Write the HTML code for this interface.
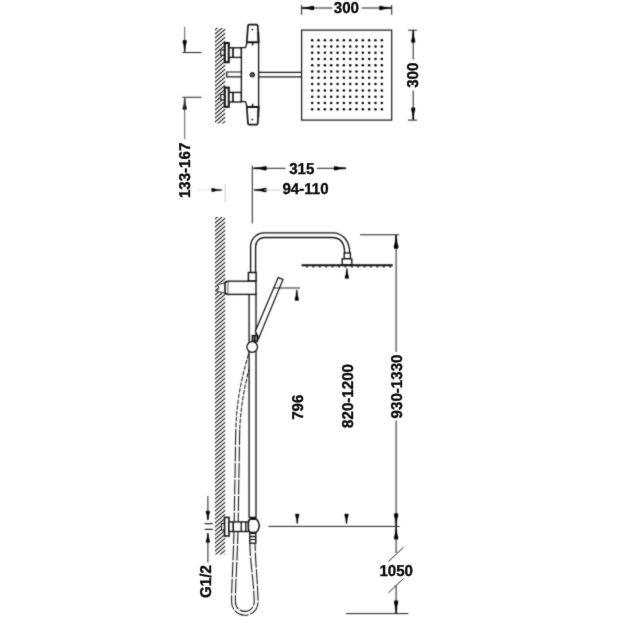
<!DOCTYPE html>
<html><head><meta charset="utf-8"><title>Shower column dimensions</title>
<style>
html,body{margin:0;padding:0;background:#fff;}
body{width:625px;height:625px;overflow:hidden;}
svg{display:block;}
svg text{font-family:"Liberation Sans",sans-serif;font-weight:bold;text-rendering:geometricPrecision;fill:#0a0a0a;stroke:#0a0a0a;stroke-width:0.35px;}
</style></head><body>
<svg width="625" height="625" viewBox="0 0 625 625">
<rect width="625" height="625" fill="#fff"/>
<defs><filter id="tb" x="0" y="0" width="625" height="625" filterUnits="userSpaceOnUse" color-interpolation-filters="sRGB"><feConvolveMatrix order="3" kernelMatrix="0 1 0 1 10 1 0 1 0" edgeMode="duplicate" preserveAlpha="false"/></filter><filter id="bl" x="0" y="0" width="625" height="625" filterUnits="userSpaceOnUse" color-interpolation-filters="sRGB"><feConvolveMatrix order="3" kernelMatrix="1 2 1 2 14 2 1 2 1" edgeMode="duplicate" preserveAlpha="false"/></filter></defs><g filter="url(#bl)">
<clipPath id="h1"><rect x="215" y="28" width="10.199999999999989" height="95.6"/></clipPath>
<g clip-path="url(#h1)" stroke="#111" stroke-width="1.05">
<line x1="214" y1="26.85" x2="226.2" y2="16.48"/>
<line x1="214" y1="30.85" x2="226.2" y2="20.48"/>
<line x1="214" y1="34.85" x2="226.2" y2="24.48"/>
<line x1="214" y1="38.85" x2="226.2" y2="28.48"/>
<line x1="214" y1="42.85" x2="226.2" y2="32.48"/>
<line x1="214" y1="46.85" x2="226.2" y2="36.48"/>
<line x1="214" y1="50.85" x2="226.2" y2="40.48"/>
<line x1="214" y1="54.85" x2="226.2" y2="44.48"/>
<line x1="214" y1="58.85" x2="226.2" y2="48.48"/>
<line x1="214" y1="62.85" x2="226.2" y2="52.48"/>
<line x1="214" y1="66.85" x2="226.2" y2="56.48"/>
<line x1="214" y1="70.85" x2="226.2" y2="60.48"/>
<line x1="214" y1="74.85" x2="226.2" y2="64.48"/>
<line x1="214" y1="78.85" x2="226.2" y2="68.48"/>
<line x1="214" y1="82.85" x2="226.2" y2="72.48"/>
<line x1="214" y1="86.85" x2="226.2" y2="76.48"/>
<line x1="214" y1="90.85" x2="226.2" y2="80.48"/>
<line x1="214" y1="94.85" x2="226.2" y2="84.48"/>
<line x1="214" y1="98.85" x2="226.2" y2="88.48"/>
<line x1="214" y1="102.85" x2="226.2" y2="92.48"/>
<line x1="214" y1="106.85" x2="226.2" y2="96.48"/>
<line x1="214" y1="110.85" x2="226.2" y2="100.48"/>
<line x1="214" y1="114.85" x2="226.2" y2="104.48"/>
<line x1="214" y1="118.85" x2="226.2" y2="108.48"/>
<line x1="214" y1="122.85" x2="226.2" y2="112.48"/>
<line x1="214" y1="126.85" x2="226.2" y2="116.48"/>
<line x1="214" y1="130.85" x2="226.2" y2="120.48"/>
<line x1="214" y1="134.85" x2="226.2" y2="124.48"/>
</g>
<line x1="184.7" y1="26.8" x2="184.7" y2="52.5" stroke="#444" stroke-width="0.9" />
<polygon points="185.15,51.30 185.65,45.25 186.60,41.95 186.41,40.30 182.99,40.30 182.80,41.95 183.75,45.25 184.25,51.30" fill="#000" stroke="#000" stroke-width="0.3" stroke-linejoin="round"/>
<line x1="182.5" y1="52.5" x2="201.5" y2="52.5" stroke="#101010" stroke-width="0.95" />
<line x1="182.5" y1="97.3" x2="201.5" y2="97.3" stroke="#101010" stroke-width="0.95" />
<polygon points="185.15,98.60 185.65,104.65 186.60,107.95 186.41,109.60 182.99,109.60 182.80,107.95 183.75,104.65 184.25,98.60" fill="#000" stroke="#000" stroke-width="0.3" stroke-linejoin="round"/>
<line x1="184.7" y1="97.3" x2="184.7" y2="139" stroke="#444" stroke-width="0.9" />
<rect x="220.8" y="49.9" width="3.6" height="5.4" fill="#fff" stroke="#101010" stroke-width="1.12"/>
<rect x="224.8" y="43.0" width="4.0" height="19.2" fill="#fff" stroke="#101010" stroke-width="2.02"/>
<rect x="229" y="47.800000000000004" width="12.4" height="9.6" fill="#fff" stroke="#101010" stroke-width="1.34"/>
<line x1="233" y1="47.7" x2="233" y2="57.5" stroke="#101010" stroke-width="1.68" />
<rect x="220.8" y="94.5" width="3.6" height="5.4" fill="#fff" stroke="#101010" stroke-width="1.12"/>
<rect x="224.8" y="87.60000000000001" width="4.0" height="19.2" fill="#fff" stroke="#101010" stroke-width="2.02"/>
<rect x="229" y="92.4" width="12.4" height="9.6" fill="#fff" stroke="#101010" stroke-width="1.34"/>
<line x1="233" y1="92.3" x2="233" y2="102.10000000000001" stroke="#101010" stroke-width="1.68" />
<path d="M241.4 72 H226.8 V76.9 H241.4" fill="#fff" stroke="#101010" stroke-width="1.23" />
<path d="M241.4 47.599999999999994 H245.5 L247 42.5 H258.6 V106.69999999999999 H247 L245.5 101.6 H241.4 Z" fill="#fff" stroke="#101010" stroke-width="1.34" />
<path d="M246.8 42 L248 25.6 Q248.1 24.6 249.2 24.6 H256.6 Q257.6 24.6 257.7 25.6 L258.8 42 Z" fill="#fff" stroke="#101010" stroke-width="1.68" />
<path d="M246.8 107.19999999999999 L248 123.6 Q248.1 124.6 249.2 124.6 H256.6 Q257.6 124.6 257.7 123.6 L258.8 107.19999999999999 Z" fill="#fff" stroke="#101010" stroke-width="1.68" />
<line x1="252.6" y1="42" x2="252.6" y2="45.5" stroke="#101010" stroke-width="1.46" />
<line x1="252.6" y1="107.19999999999999" x2="252.6" y2="103.69999999999999" stroke="#101010" stroke-width="1.46" />
<circle cx="252.3" cy="29.6" r="0.9" fill="#101010"/>
<circle cx="252.3" cy="119.6" r="0.9" fill="#101010"/>
<line x1="258.3" y1="32" x2="258.3" y2="41" stroke="#101010" stroke-width="1.79" />
<line x1="258.3" y1="117.19999999999999" x2="258.3" y2="108.19999999999999" stroke="#101010" stroke-width="1.79" />
<circle cx="252.3" cy="74.8" r="2.3" fill="#555" stroke="#101010" stroke-width="1"/>
<line x1="258.6" y1="72.4" x2="301.6" y2="72.4" stroke="#101010" stroke-width="1.34" />
<line x1="258.6" y1="76.9" x2="301.6" y2="76.9" stroke="#101010" stroke-width="1.34" />
<rect x="301.6" y="30.1" width="90.1" height="90.0" fill="#fff" stroke="#101010" stroke-width="1.18"/>
<circle cx="312.20" cy="40.30" r="1.25" fill="#000"/>
<circle cx="312.20" cy="46.56" r="1.25" fill="#000"/>
<circle cx="312.20" cy="52.82" r="1.25" fill="#000"/>
<circle cx="312.20" cy="59.08" r="1.25" fill="#000"/>
<circle cx="312.20" cy="65.34" r="1.25" fill="#000"/>
<circle cx="312.20" cy="71.60" r="1.25" fill="#000"/>
<circle cx="312.20" cy="77.86" r="1.25" fill="#000"/>
<circle cx="312.20" cy="84.12" r="1.25" fill="#000"/>
<circle cx="312.20" cy="90.38" r="1.25" fill="#000"/>
<circle cx="312.20" cy="96.64" r="1.25" fill="#000"/>
<circle cx="312.20" cy="102.90" r="1.25" fill="#000"/>
<circle cx="312.20" cy="109.16" r="1.25" fill="#000"/>
<circle cx="318.53" cy="40.30" r="1.25" fill="#000"/>
<circle cx="318.53" cy="46.56" r="1.25" fill="#000"/>
<circle cx="318.53" cy="52.82" r="1.25" fill="#000"/>
<circle cx="318.53" cy="59.08" r="1.25" fill="#000"/>
<circle cx="318.53" cy="65.34" r="1.25" fill="#000"/>
<circle cx="318.53" cy="71.60" r="1.25" fill="#000"/>
<circle cx="318.53" cy="77.86" r="1.25" fill="#000"/>
<circle cx="318.53" cy="84.12" r="1.25" fill="#000"/>
<circle cx="318.53" cy="90.38" r="1.25" fill="#000"/>
<circle cx="318.53" cy="96.64" r="1.25" fill="#000"/>
<circle cx="318.53" cy="102.90" r="1.25" fill="#000"/>
<circle cx="318.53" cy="109.16" r="1.25" fill="#000"/>
<circle cx="324.86" cy="40.30" r="1.25" fill="#000"/>
<circle cx="324.86" cy="46.56" r="1.25" fill="#000"/>
<circle cx="324.86" cy="52.82" r="1.25" fill="#000"/>
<circle cx="324.86" cy="59.08" r="1.25" fill="#000"/>
<circle cx="324.86" cy="65.34" r="1.25" fill="#000"/>
<circle cx="324.86" cy="71.60" r="1.25" fill="#000"/>
<circle cx="324.86" cy="77.86" r="1.25" fill="#000"/>
<circle cx="324.86" cy="84.12" r="1.25" fill="#000"/>
<circle cx="324.86" cy="90.38" r="1.25" fill="#000"/>
<circle cx="324.86" cy="96.64" r="1.25" fill="#000"/>
<circle cx="324.86" cy="102.90" r="1.25" fill="#000"/>
<circle cx="324.86" cy="109.16" r="1.25" fill="#000"/>
<circle cx="331.19" cy="40.30" r="1.25" fill="#000"/>
<circle cx="331.19" cy="46.56" r="1.25" fill="#000"/>
<circle cx="331.19" cy="52.82" r="1.25" fill="#000"/>
<circle cx="331.19" cy="59.08" r="1.25" fill="#000"/>
<circle cx="331.19" cy="65.34" r="1.25" fill="#000"/>
<circle cx="331.19" cy="71.60" r="1.25" fill="#000"/>
<circle cx="331.19" cy="77.86" r="1.25" fill="#000"/>
<circle cx="331.19" cy="84.12" r="1.25" fill="#000"/>
<circle cx="331.19" cy="90.38" r="1.25" fill="#000"/>
<circle cx="331.19" cy="96.64" r="1.25" fill="#000"/>
<circle cx="331.19" cy="102.90" r="1.25" fill="#000"/>
<circle cx="331.19" cy="109.16" r="1.25" fill="#000"/>
<circle cx="337.52" cy="40.30" r="1.25" fill="#000"/>
<circle cx="337.52" cy="46.56" r="1.25" fill="#000"/>
<circle cx="337.52" cy="52.82" r="1.25" fill="#000"/>
<circle cx="337.52" cy="59.08" r="1.25" fill="#000"/>
<circle cx="337.52" cy="65.34" r="1.25" fill="#000"/>
<circle cx="337.52" cy="71.60" r="1.25" fill="#000"/>
<circle cx="337.52" cy="77.86" r="1.25" fill="#000"/>
<circle cx="337.52" cy="84.12" r="1.25" fill="#000"/>
<circle cx="337.52" cy="90.38" r="1.25" fill="#000"/>
<circle cx="337.52" cy="96.64" r="1.25" fill="#000"/>
<circle cx="337.52" cy="102.90" r="1.25" fill="#000"/>
<circle cx="337.52" cy="109.16" r="1.25" fill="#000"/>
<circle cx="343.85" cy="40.30" r="1.25" fill="#000"/>
<circle cx="343.85" cy="46.56" r="1.25" fill="#000"/>
<circle cx="343.85" cy="52.82" r="1.25" fill="#000"/>
<circle cx="343.85" cy="59.08" r="1.25" fill="#000"/>
<circle cx="343.85" cy="65.34" r="1.25" fill="#000"/>
<circle cx="343.85" cy="71.60" r="1.25" fill="#000"/>
<circle cx="343.85" cy="77.86" r="1.25" fill="#000"/>
<circle cx="343.85" cy="84.12" r="1.25" fill="#000"/>
<circle cx="343.85" cy="90.38" r="1.25" fill="#000"/>
<circle cx="343.85" cy="96.64" r="1.25" fill="#000"/>
<circle cx="343.85" cy="102.90" r="1.25" fill="#000"/>
<circle cx="343.85" cy="109.16" r="1.25" fill="#000"/>
<circle cx="350.18" cy="40.30" r="1.25" fill="#000"/>
<circle cx="350.18" cy="46.56" r="1.25" fill="#000"/>
<circle cx="350.18" cy="52.82" r="1.25" fill="#000"/>
<circle cx="350.18" cy="59.08" r="1.25" fill="#000"/>
<circle cx="350.18" cy="65.34" r="1.25" fill="#000"/>
<circle cx="350.18" cy="71.60" r="1.25" fill="#000"/>
<circle cx="350.18" cy="77.86" r="1.25" fill="#000"/>
<circle cx="350.18" cy="84.12" r="1.25" fill="#000"/>
<circle cx="350.18" cy="90.38" r="1.25" fill="#000"/>
<circle cx="350.18" cy="96.64" r="1.25" fill="#000"/>
<circle cx="350.18" cy="102.90" r="1.25" fill="#000"/>
<circle cx="350.18" cy="109.16" r="1.25" fill="#000"/>
<circle cx="356.51" cy="40.30" r="1.25" fill="#000"/>
<circle cx="356.51" cy="46.56" r="1.25" fill="#000"/>
<circle cx="356.51" cy="52.82" r="1.25" fill="#000"/>
<circle cx="356.51" cy="59.08" r="1.25" fill="#000"/>
<circle cx="356.51" cy="65.34" r="1.25" fill="#000"/>
<circle cx="356.51" cy="71.60" r="1.25" fill="#000"/>
<circle cx="356.51" cy="77.86" r="1.25" fill="#000"/>
<circle cx="356.51" cy="84.12" r="1.25" fill="#000"/>
<circle cx="356.51" cy="90.38" r="1.25" fill="#000"/>
<circle cx="356.51" cy="96.64" r="1.25" fill="#000"/>
<circle cx="356.51" cy="102.90" r="1.25" fill="#000"/>
<circle cx="356.51" cy="109.16" r="1.25" fill="#000"/>
<circle cx="362.84" cy="40.30" r="1.25" fill="#000"/>
<circle cx="362.84" cy="46.56" r="1.25" fill="#000"/>
<circle cx="362.84" cy="52.82" r="1.25" fill="#000"/>
<circle cx="362.84" cy="59.08" r="1.25" fill="#000"/>
<circle cx="362.84" cy="65.34" r="1.25" fill="#000"/>
<circle cx="362.84" cy="71.60" r="1.25" fill="#000"/>
<circle cx="362.84" cy="77.86" r="1.25" fill="#000"/>
<circle cx="362.84" cy="84.12" r="1.25" fill="#000"/>
<circle cx="362.84" cy="90.38" r="1.25" fill="#000"/>
<circle cx="362.84" cy="96.64" r="1.25" fill="#000"/>
<circle cx="362.84" cy="102.90" r="1.25" fill="#000"/>
<circle cx="362.84" cy="109.16" r="1.25" fill="#000"/>
<circle cx="369.17" cy="40.30" r="1.25" fill="#000"/>
<circle cx="369.17" cy="46.56" r="1.25" fill="#000"/>
<circle cx="369.17" cy="52.82" r="1.25" fill="#000"/>
<circle cx="369.17" cy="59.08" r="1.25" fill="#000"/>
<circle cx="369.17" cy="65.34" r="1.25" fill="#000"/>
<circle cx="369.17" cy="71.60" r="1.25" fill="#000"/>
<circle cx="369.17" cy="77.86" r="1.25" fill="#000"/>
<circle cx="369.17" cy="84.12" r="1.25" fill="#000"/>
<circle cx="369.17" cy="90.38" r="1.25" fill="#000"/>
<circle cx="369.17" cy="96.64" r="1.25" fill="#000"/>
<circle cx="369.17" cy="102.90" r="1.25" fill="#000"/>
<circle cx="369.17" cy="109.16" r="1.25" fill="#000"/>
<circle cx="375.50" cy="40.30" r="1.25" fill="#000"/>
<circle cx="375.50" cy="46.56" r="1.25" fill="#000"/>
<circle cx="375.50" cy="52.82" r="1.25" fill="#000"/>
<circle cx="375.50" cy="59.08" r="1.25" fill="#000"/>
<circle cx="375.50" cy="65.34" r="1.25" fill="#000"/>
<circle cx="375.50" cy="71.60" r="1.25" fill="#000"/>
<circle cx="375.50" cy="77.86" r="1.25" fill="#000"/>
<circle cx="375.50" cy="84.12" r="1.25" fill="#000"/>
<circle cx="375.50" cy="90.38" r="1.25" fill="#000"/>
<circle cx="375.50" cy="96.64" r="1.25" fill="#000"/>
<circle cx="375.50" cy="102.90" r="1.25" fill="#000"/>
<circle cx="375.50" cy="109.16" r="1.25" fill="#000"/>
<circle cx="381.83" cy="40.30" r="1.25" fill="#000"/>
<circle cx="381.83" cy="46.56" r="1.25" fill="#000"/>
<circle cx="381.83" cy="52.82" r="1.25" fill="#000"/>
<circle cx="381.83" cy="59.08" r="1.25" fill="#000"/>
<circle cx="381.83" cy="65.34" r="1.25" fill="#000"/>
<circle cx="381.83" cy="71.60" r="1.25" fill="#000"/>
<circle cx="381.83" cy="77.86" r="1.25" fill="#000"/>
<circle cx="381.83" cy="84.12" r="1.25" fill="#000"/>
<circle cx="381.83" cy="90.38" r="1.25" fill="#000"/>
<circle cx="381.83" cy="96.64" r="1.25" fill="#000"/>
<circle cx="381.83" cy="102.90" r="1.25" fill="#000"/>
<circle cx="381.83" cy="109.16" r="1.25" fill="#000"/>
<line x1="301.6" y1="5" x2="301.6" y2="14.8" stroke="#101010" stroke-width="0.95" />
<line x1="391.7" y1="5" x2="391.7" y2="14.8" stroke="#101010" stroke-width="0.95" />
<line x1="301.6" y1="8" x2="332.3" y2="8" stroke="#101010" stroke-width="0.95" />
<line x1="361.5" y1="8" x2="391.7" y2="8" stroke="#101010" stroke-width="0.95" />
<polygon points="302.00,8.45 308.60,8.95 312.20,9.90 314.00,9.71 314.00,6.29 312.20,6.10 308.60,7.05 302.00,7.55" fill="#000" stroke="#000" stroke-width="0.3" stroke-linejoin="round"/>
<polygon points="391.30,8.45 384.70,8.95 381.10,9.90 379.30,9.71 379.30,6.29 381.10,6.10 384.70,7.05 391.30,7.55" fill="#000" stroke="#000" stroke-width="0.3" stroke-linejoin="round"/>
<line x1="408" y1="30.2" x2="417" y2="30.2" stroke="#101010" stroke-width="0.95" />
<line x1="408" y1="120.1" x2="417" y2="120.1" stroke="#101010" stroke-width="0.95" />
<line x1="413.2" y1="30.2" x2="413.2" y2="59.5" stroke="#101010" stroke-width="0.95" />
<line x1="413.2" y1="90.5" x2="413.2" y2="120.1" stroke="#101010" stroke-width="0.95" />
<polygon points="413.65,30.60 414.15,37.20 415.10,40.80 414.91,42.60 411.49,42.60 411.30,40.80 412.25,37.20 412.75,30.60" fill="#000" stroke="#000" stroke-width="0.3" stroke-linejoin="round"/>
<polygon points="413.65,119.70 414.15,113.10 415.10,109.50 414.91,107.70 411.49,107.70 411.30,109.50 412.25,113.10 412.75,119.70" fill="#000" stroke="#000" stroke-width="0.3" stroke-linejoin="round"/>
<clipPath id="h2"><rect x="215" y="217" width="10.199999999999989" height="337.5"/></clipPath>
<g clip-path="url(#h2)" stroke="#111" stroke-width="1.05">
<line x1="214" y1="215.85" x2="226.2" y2="205.48"/>
<line x1="214" y1="219.85" x2="226.2" y2="209.48"/>
<line x1="214" y1="223.85" x2="226.2" y2="213.48"/>
<line x1="214" y1="227.85" x2="226.2" y2="217.48"/>
<line x1="214" y1="231.85" x2="226.2" y2="221.48"/>
<line x1="214" y1="235.85" x2="226.2" y2="225.48"/>
<line x1="214" y1="239.85" x2="226.2" y2="229.48"/>
<line x1="214" y1="243.85" x2="226.2" y2="233.48"/>
<line x1="214" y1="247.85" x2="226.2" y2="237.48"/>
<line x1="214" y1="251.85" x2="226.2" y2="241.48"/>
<line x1="214" y1="255.85" x2="226.2" y2="245.48"/>
<line x1="214" y1="259.85" x2="226.2" y2="249.48"/>
<line x1="214" y1="263.85" x2="226.2" y2="253.48"/>
<line x1="214" y1="267.85" x2="226.2" y2="257.48"/>
<line x1="214" y1="271.85" x2="226.2" y2="261.48"/>
<line x1="214" y1="275.85" x2="226.2" y2="265.48"/>
<line x1="214" y1="279.85" x2="226.2" y2="269.48"/>
<line x1="214" y1="283.85" x2="226.2" y2="273.48"/>
<line x1="214" y1="287.85" x2="226.2" y2="277.48"/>
<line x1="214" y1="291.85" x2="226.2" y2="281.48"/>
<line x1="214" y1="295.85" x2="226.2" y2="285.48"/>
<line x1="214" y1="299.85" x2="226.2" y2="289.48"/>
<line x1="214" y1="303.85" x2="226.2" y2="293.48"/>
<line x1="214" y1="307.85" x2="226.2" y2="297.48"/>
<line x1="214" y1="311.85" x2="226.2" y2="301.48"/>
<line x1="214" y1="315.85" x2="226.2" y2="305.48"/>
<line x1="214" y1="319.85" x2="226.2" y2="309.48"/>
<line x1="214" y1="323.85" x2="226.2" y2="313.48"/>
<line x1="214" y1="327.85" x2="226.2" y2="317.48"/>
<line x1="214" y1="331.85" x2="226.2" y2="321.48"/>
<line x1="214" y1="335.85" x2="226.2" y2="325.48"/>
<line x1="214" y1="339.85" x2="226.2" y2="329.48"/>
<line x1="214" y1="343.85" x2="226.2" y2="333.48"/>
<line x1="214" y1="347.85" x2="226.2" y2="337.48"/>
<line x1="214" y1="351.85" x2="226.2" y2="341.48"/>
<line x1="214" y1="355.85" x2="226.2" y2="345.48"/>
<line x1="214" y1="359.85" x2="226.2" y2="349.48"/>
<line x1="214" y1="363.85" x2="226.2" y2="353.48"/>
<line x1="214" y1="367.85" x2="226.2" y2="357.48"/>
<line x1="214" y1="371.85" x2="226.2" y2="361.48"/>
<line x1="214" y1="375.85" x2="226.2" y2="365.48"/>
<line x1="214" y1="379.85" x2="226.2" y2="369.48"/>
<line x1="214" y1="383.85" x2="226.2" y2="373.48"/>
<line x1="214" y1="387.85" x2="226.2" y2="377.48"/>
<line x1="214" y1="391.85" x2="226.2" y2="381.48"/>
<line x1="214" y1="395.85" x2="226.2" y2="385.48"/>
<line x1="214" y1="399.85" x2="226.2" y2="389.48"/>
<line x1="214" y1="403.85" x2="226.2" y2="393.48"/>
<line x1="214" y1="407.85" x2="226.2" y2="397.48"/>
<line x1="214" y1="411.85" x2="226.2" y2="401.48"/>
<line x1="214" y1="415.85" x2="226.2" y2="405.48"/>
<line x1="214" y1="419.85" x2="226.2" y2="409.48"/>
<line x1="214" y1="423.85" x2="226.2" y2="413.48"/>
<line x1="214" y1="427.85" x2="226.2" y2="417.48"/>
<line x1="214" y1="431.85" x2="226.2" y2="421.48"/>
<line x1="214" y1="435.85" x2="226.2" y2="425.48"/>
<line x1="214" y1="439.85" x2="226.2" y2="429.48"/>
<line x1="214" y1="443.85" x2="226.2" y2="433.48"/>
<line x1="214" y1="447.85" x2="226.2" y2="437.48"/>
<line x1="214" y1="451.85" x2="226.2" y2="441.48"/>
<line x1="214" y1="455.85" x2="226.2" y2="445.48"/>
<line x1="214" y1="459.85" x2="226.2" y2="449.48"/>
<line x1="214" y1="463.85" x2="226.2" y2="453.48"/>
<line x1="214" y1="467.85" x2="226.2" y2="457.48"/>
<line x1="214" y1="471.85" x2="226.2" y2="461.48"/>
<line x1="214" y1="475.85" x2="226.2" y2="465.48"/>
<line x1="214" y1="479.85" x2="226.2" y2="469.48"/>
<line x1="214" y1="483.85" x2="226.2" y2="473.48"/>
<line x1="214" y1="487.85" x2="226.2" y2="477.48"/>
<line x1="214" y1="491.85" x2="226.2" y2="481.48"/>
<line x1="214" y1="495.85" x2="226.2" y2="485.48"/>
<line x1="214" y1="499.85" x2="226.2" y2="489.48"/>
<line x1="214" y1="503.85" x2="226.2" y2="493.48"/>
<line x1="214" y1="507.85" x2="226.2" y2="497.48"/>
<line x1="214" y1="511.85" x2="226.2" y2="501.48"/>
<line x1="214" y1="515.85" x2="226.2" y2="505.48"/>
<line x1="214" y1="519.85" x2="226.2" y2="509.48"/>
<line x1="214" y1="523.85" x2="226.2" y2="513.48"/>
<line x1="214" y1="527.85" x2="226.2" y2="517.48"/>
<line x1="214" y1="531.85" x2="226.2" y2="521.48"/>
<line x1="214" y1="535.85" x2="226.2" y2="525.48"/>
<line x1="214" y1="539.85" x2="226.2" y2="529.48"/>
<line x1="214" y1="543.85" x2="226.2" y2="533.48"/>
<line x1="214" y1="547.85" x2="226.2" y2="537.48"/>
<line x1="214" y1="551.85" x2="226.2" y2="541.48"/>
<line x1="214" y1="555.85" x2="226.2" y2="545.48"/>
<line x1="214" y1="559.85" x2="226.2" y2="549.48"/>
<line x1="214" y1="563.85" x2="226.2" y2="553.48"/>
</g>
<line x1="252.3" y1="165.6" x2="252.3" y2="223.5" stroke="#101010" stroke-width="0.95" />
<line x1="252.3" y1="168.3" x2="285.6" y2="168.3" stroke="#101010" stroke-width="0.95" />
<line x1="316.8" y1="168.3" x2="346" y2="168.3" stroke="#101010" stroke-width="0.95" />
<polygon points="254.00,168.75 260.88,169.25 264.62,170.20 266.50,170.01 266.50,166.59 264.62,166.40 260.88,167.35 254.00,167.85" fill="#000" stroke="#000" stroke-width="0.3" stroke-linejoin="round"/>
<polygon points="346.00,168.75 339.40,169.25 335.80,170.20 334.00,170.01 334.00,166.59 335.80,166.40 339.40,167.35 346.00,167.85" fill="#000" stroke="#000" stroke-width="0.3" stroke-linejoin="round"/>
<polygon points="254.00,190.45 260.88,190.95 264.62,191.90 266.50,191.71 266.50,188.29 264.62,188.10 260.88,189.05 254.00,189.55" fill="#000" stroke="#000" stroke-width="0.3" stroke-linejoin="round"/>
<line x1="264" y1="190" x2="281" y2="190" stroke="#ccc" stroke-width="0.9" />
<line x1="197" y1="190" x2="212" y2="190" stroke="#ddd" stroke-width="0.9" />
<polygon points="221.60,190.45 216.10,190.85 213.10,191.70 211.60,191.53 211.60,188.47 213.10,188.30 216.10,189.15 221.60,189.55" fill="#000" stroke="#000" stroke-width="0.3" stroke-linejoin="round"/>
<line x1="225.2" y1="184" x2="225.2" y2="202" stroke="#ccc" stroke-width="1.01" />
<path d="M250 349 C244.5 368 236.5 395 235.8 430" fill="none" stroke="#101010" stroke-width="1.01" stroke-dasharray="4.5 1.3"/>
<path d="M254 351 C248.5 370 241 397 239.7 430" fill="none" stroke="#101010" stroke-width="1.01" stroke-dasharray="4.5 1.3"/>
<path d="M235.8 430 L234.2 520 C233.6 560 231.6 580 231.6 602 A13.2 13.2 0 0 0 258 602 C258 585 255.1 560 255.1 543" fill="none" stroke="#101010" stroke-width="1.06" stroke-dasharray="15 1.5"/>
<path d="M239.7 430 L238.2 520 C237.6 560 235.4 580 235.4 602 A9.4 9.4 0 0 0 254.2 602 C254.2 585 249.9 560 249.9 543" fill="none" stroke="#101010" stroke-width="1.06" stroke-dasharray="15 1.5"/>
<rect x="249.1" y="294.4" width="6.9" height="223.0" fill="#fff" stroke="#101010" stroke-width="1.29"/>
<path d="M250.6 272.5 V246.5 A13.6 13.6 0 0 1 264.2 232.9 H332.5 C342.5 232.9 349.7 240.5 349.7 253 M344.6 253 C344.6 243.5 340.5 237.5 332 237.5 H264.2 A8.9 8.9 0 0 0 255.6 246.5 V272.5" fill="none" stroke="#101010" stroke-width="1.34" />
<rect x="248.4" y="272.5" width="7.7" height="8.5" fill="#fff" stroke="#101010" stroke-width="1.46"/>
<rect x="227.6" y="281.2" width="28.4" height="13.2" fill="#fff" stroke="#101010" stroke-width="1.34"/>
<path d="M227.6 281.2 L225 282.4 V293.2 L227.6 294.4" fill="#fff" stroke="#101010" stroke-width="1.68" />
<path d="M224.5 283 L217.5 284.5 L219 288 L216.5 291 L224.5 293 Z" fill="#fff" stroke="#444" stroke-width="1.01" />
<rect x="344.2" y="253" width="6.2" height="5.8" fill="#fff" stroke="#101010" stroke-width="1.34"/>
<rect x="342.2" y="258.8" width="9.6" height="6.2" fill="#fff" stroke="#101010" stroke-width="1.34"/>
<line x1="301.6" y1="265.3" x2="392.8" y2="265.3" stroke="#101010" stroke-width="2.13" />
<rect x="306.0" y="266.1" width="2" height="1.3" fill="#222"/>
<rect x="312.4" y="266.1" width="2" height="1.3" fill="#222"/>
<rect x="318.8" y="266.1" width="2" height="1.3" fill="#222"/>
<rect x="325.2" y="266.1" width="2" height="1.3" fill="#222"/>
<rect x="331.6" y="266.1" width="2" height="1.3" fill="#222"/>
<rect x="338.0" y="266.1" width="2" height="1.3" fill="#222"/>
<rect x="344.4" y="266.1" width="2" height="1.3" fill="#222"/>
<rect x="350.8" y="266.1" width="2" height="1.3" fill="#222"/>
<rect x="357.2" y="266.1" width="2" height="1.3" fill="#222"/>
<rect x="363.6" y="266.1" width="2" height="1.3" fill="#222"/>
<rect x="370.0" y="266.1" width="2" height="1.3" fill="#222"/>
<rect x="376.4" y="266.1" width="2" height="1.3" fill="#222"/>
<rect x="382.8" y="266.1" width="2" height="1.3" fill="#222"/>
<rect x="389.2" y="266.1" width="2" height="1.3" fill="#222"/>
<polygon points="347.35,268.60 347.85,274.10 348.80,277.10 348.61,278.60 345.19,278.60 345.00,277.10 345.95,274.10 346.45,268.60" fill="#000" stroke="#000" stroke-width="0.3" stroke-linejoin="round"/>
<path d="M278.2 277.6 L283 279.4 L258.6 338.5 L255.4 331 Z" fill="#fff" stroke="#101010" stroke-width="1.23" />
<line x1="272.8" y1="288" x2="300" y2="288" stroke="#101010" stroke-width="0.95" />
<polygon points="297.25,290.00 297.75,295.77 298.70,298.93 298.51,300.50 295.09,300.50 294.90,298.93 295.85,295.77 296.35,290.00" fill="#000" stroke="#000" stroke-width="0.3" stroke-linejoin="round"/>
<rect x="252.2" y="335.6" width="5.4" height="5.6" fill="#888" stroke="#101010" stroke-width="1.34"/>
<line x1="254.6" y1="335.6" x2="254.6" y2="341.2" stroke="#101010" stroke-width="1.34" />
<circle cx="252.2" cy="347" r="5.3" fill="#fff" stroke="#101010" stroke-width="1.3"/>
<rect x="221.6" y="523.5" width="2.8" height="6.5" fill="#fff" stroke="#101010" stroke-width="1.01"/>
<rect x="224.6" y="517.4" width="4.4" height="18.6" fill="#fff" stroke="#101010" stroke-width="1.57"/>
<rect x="229" y="521.9" width="19.5" height="9.6" fill="#fff" stroke="#101010" stroke-width="1.34"/>
<line x1="233.2" y1="521.9" x2="233.2" y2="531.5" stroke="#101010" stroke-width="1.57" />
<line x1="241.2" y1="521.9" x2="241.2" y2="531.5" stroke="#101010" stroke-width="1.34" />
<line x1="245.8" y1="521.9" x2="245.8" y2="531.5" stroke="#101010" stroke-width="1.34" />
<rect x="249.8" y="533" width="6.0" height="10.2" fill="#fff" stroke="#101010" stroke-width="1.34"/>
<line x1="249.8" y1="536.5" x2="255.8" y2="536.5" stroke="#101010" stroke-width="1.34" />
<line x1="249.8" y1="539.5" x2="255.8" y2="539.5" stroke="#101010" stroke-width="1.12" />
<path d="M248.4 523 Q248.4 519 252 518.6 H255 Q258.2 519.4 259.4 525.8 Q258.2 532 255 532.8 H252 Q248.4 532.4 248.4 528.5 Z" fill="#fff" stroke="#101010" stroke-width="1.57" />
<path d="M250.6 518.9 H255.6" fill="none" stroke="#101010" stroke-width="2.24" />
<path d="M251 532.9 H255.4" fill="none" stroke="#101010" stroke-width="2.24" />
<line x1="207.9" y1="496" x2="207.9" y2="519" stroke="#101010" stroke-width="0.95" />
<polygon points="208.35,520.00 208.85,515.05 209.80,512.35 209.61,511.00 206.19,511.00 206.00,512.35 206.95,515.05 207.45,520.00" fill="#000" stroke="#000" stroke-width="0.3" stroke-linejoin="round"/>
<line x1="204.6" y1="523.7" x2="212.8" y2="523.7" stroke="#101010" stroke-width="1.12" />
<line x1="204.6" y1="529.3" x2="212.8" y2="529.3" stroke="#101010" stroke-width="1.12" />
<polygon points="208.35,533.40 208.85,538.35 209.80,541.05 209.61,542.40 206.19,542.40 206.00,541.05 206.95,538.35 207.45,533.40" fill="#000" stroke="#000" stroke-width="0.3" stroke-linejoin="round"/>
<line x1="207.9" y1="533" x2="207.9" y2="562.5" stroke="#101010" stroke-width="0.95" />
<line x1="268.4" y1="526.4" x2="399.6" y2="526.4" stroke="#101010" stroke-width="0.95" />
<polygon points="297.65,523.40 298.15,518.17 299.10,515.32 298.91,513.90 295.49,513.90 295.30,515.32 296.25,518.17 296.75,523.40" fill="#000" stroke="#000" stroke-width="0.3" stroke-linejoin="round"/>
<polygon points="346.95,523.40 347.45,518.17 348.40,515.32 348.21,513.90 344.79,513.90 344.60,515.32 345.55,518.17 346.05,523.40" fill="#000" stroke="#000" stroke-width="0.3" stroke-linejoin="round"/>
<line x1="360" y1="234.8" x2="399.2" y2="234.8" stroke="#101010" stroke-width="0.95" />
<line x1="396.1" y1="234.8" x2="396.1" y2="352" stroke="#101010" stroke-width="0.95" />
<line x1="396.1" y1="420.5" x2="396.1" y2="553" stroke="#101010" stroke-width="0.95" />
<polygon points="396.55,235.40 397.20,242.55 398.30,246.45 398.08,248.40 394.12,248.40 393.90,246.45 395.00,242.55 395.65,235.40" fill="#000" stroke="#000" stroke-width="0.3" stroke-linejoin="round"/>
<polygon points="396.55,525.60 397.10,519.00 398.10,515.40 397.90,513.60 394.30,513.60 394.10,515.40 395.10,519.00 395.65,525.60" fill="#000" stroke="#000" stroke-width="0.3" stroke-linejoin="round"/>
<polygon points="396.55,527.20 397.10,533.80 398.10,537.40 397.90,539.20 394.30,539.20 394.10,537.40 395.10,533.80 395.65,527.20" fill="#000" stroke="#000" stroke-width="0.3" stroke-linejoin="round"/>
<line x1="388.4" y1="561.6" x2="403.6" y2="547.2" stroke="#101010" stroke-width="0.95" />
<line x1="388.4" y1="592.8" x2="403.6" y2="578.4" stroke="#101010" stroke-width="0.95" />
<line x1="396.1" y1="585.5" x2="396.1" y2="613.6" stroke="#101010" stroke-width="0.95" />
<polygon points="396.55,613.20 397.10,606.33 398.10,602.58 397.90,600.70 394.30,600.70 394.10,602.58 395.10,606.33 395.65,613.20" fill="#000" stroke="#000" stroke-width="0.3" stroke-linejoin="round"/>
<line x1="346" y1="613.6" x2="408.4" y2="613.6" stroke="#101010" stroke-width="0.95" />
</g>
<g filter="url(#tb)">
<text transform="translate(190.4 170.4) rotate(-90) scale(0.963 1)" x="0" y="0" font-size="15.7" text-anchor="middle">133-167</text>
<text transform="translate(346.4 13.2) rotate(0) scale(0.963 1)" x="0" y="0" font-size="15.7" text-anchor="middle">300</text>
<text transform="translate(418.0 75.2) rotate(-90) scale(0.963 1)" x="0" y="0" font-size="15.7" text-anchor="middle">300</text>
<text transform="translate(301.8 173.5) rotate(0) scale(0.963 1)" x="0" y="0" font-size="15.7" text-anchor="middle">315</text>
<text transform="translate(305.5 193.7) rotate(0) scale(0.963 1)" x="0" y="0" font-size="15.7" text-anchor="middle">94-110</text>
<text transform="translate(211.4 581.6) rotate(-90) scale(0.963 1)" x="0" y="0" font-size="15.7" text-anchor="middle">G1/2</text>
<text transform="translate(303.3 407.2) rotate(-90) scale(0.963 1)" x="0" y="0" font-size="15.7" text-anchor="middle">796</text>
<text transform="translate(353.2 396) rotate(-90) scale(0.963 1)" x="0" y="0" font-size="15.7" text-anchor="middle">820-1200</text>
<text transform="translate(401.6 386.5) rotate(-90) scale(0.963 1)" x="0" y="0" font-size="15.7" text-anchor="middle">930-1330</text>
<text transform="translate(396.2 576.0) rotate(0) scale(0.963 1)" x="0" y="0" font-size="15.7" text-anchor="middle">1050</text>
</g>
</svg>
</body></html>
